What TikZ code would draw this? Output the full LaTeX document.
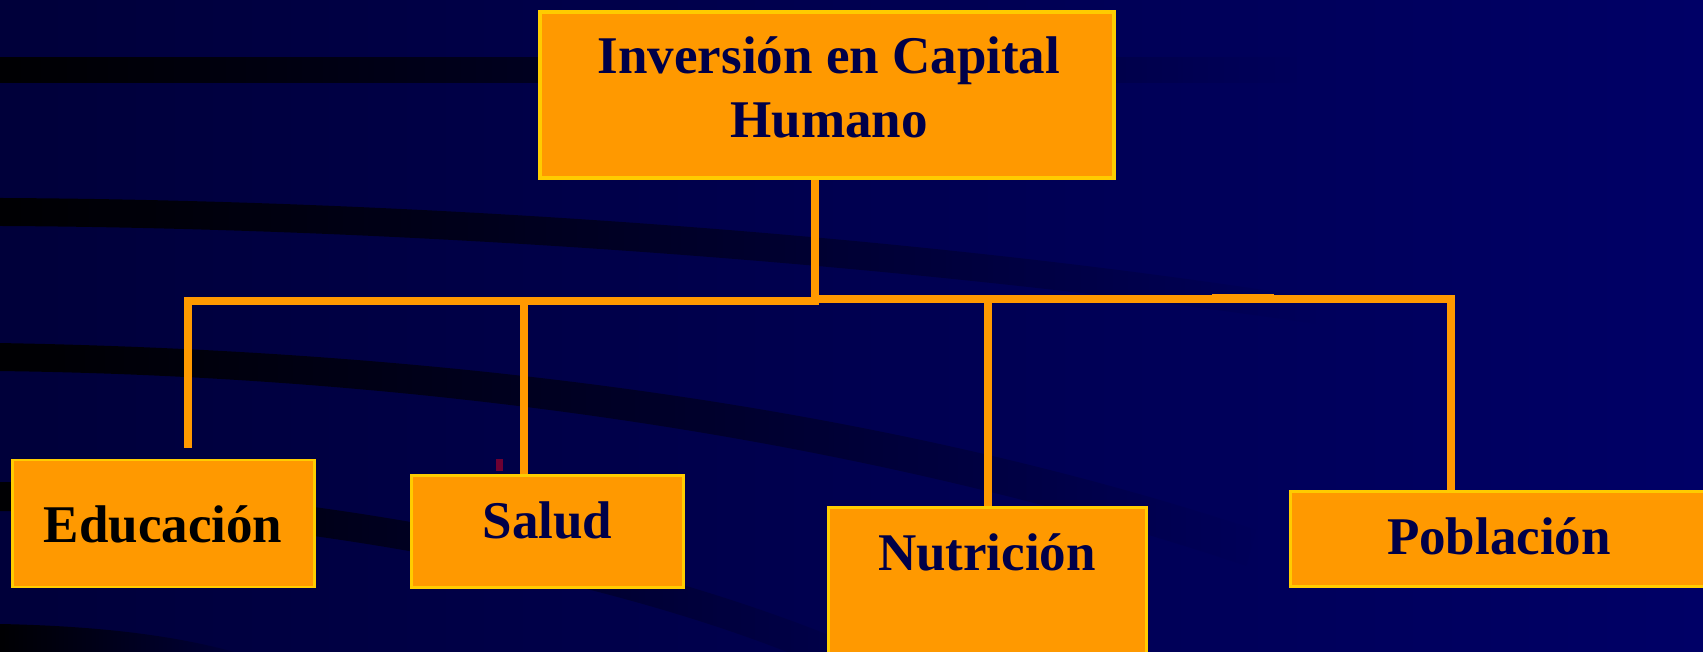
\documentclass[tikz,border=0pt]{standalone}
\usepackage{fontspec}
\setmainfont{Liberation Serif}
\usetikzlibrary{fadings}
\definecolor{bgL}{RGB}{0,0,58}
\definecolor{bgR}{RGB}{0,0,102}
\definecolor{boxfill}{RGB}{255,153,0}
\definecolor{boxedge}{RGB}{255,204,0}
\definecolor{conncol}{RGB}{255,153,0}
\definecolor{txtnavy}{RGB}{0,0,72}
\definecolor{marker}{RGB}{110,0,50}
\tikzfading[name=fadeR, left color=transparent!0, middle color=transparent!35, right color=transparent!100]
\tikzset{
  stripe/.style={fill=black, path fading=fadeR, fill opacity=0.95},
  orgbox/.style={draw=boxedge, fill=boxfill, line width=3pt, inner sep=0pt, rectangle},
  lbl/.style={font=\fontsize{53}{64}\selectfont\bfseries, text=txtnavy, anchor=base, inner sep=0pt},
  conn/.style={draw=conncol, line width=8pt, miter limit=10},
}
\begin{document}
\begin{tikzpicture}[x=1pt,y=-1pt]
\useasboundingbox (0,0) rectangle (1703,652);
\clip (0,0) rectangle (1703,652);
% background
\shade[left color=bgL, right color=bgR] (0,0) rectangle (1703,652);
% dark stripes
\fill[stripe] (0,57) -- (1300,57) -- (1300,83) -- (0,83) -- cycle;
\fill[stripe] (0,198) .. controls (400,200) and (900,232) .. (1320,298)
  -- (1320,324) .. controls (900,262) and (400,228) .. (0,226) -- cycle;
\fill[stripe] (0,343) .. controls (400,350) and (850,395) .. (1260,530)
  -- (1250,566) .. controls (850,432) and (400,376) .. (0,371) -- cycle;
\fill[stripe] (0,482) .. controls (300,488) and (650,550) .. (900,665)
  -- (820,665) .. controls (620,580) and (300,516) .. (0,511) -- cycle;
\fill[stripe] (0,624) .. controls (100,626) and (190,636) .. (260,660)
  -- (0,660) -- cycle;
% boxes
\node[orgbox, line width=4pt, minimum width=574pt, minimum height=166pt] (top) at (827,95) {};
\node[orgbox, line width=2.5pt, minimum width=302pt, minimum height=127pt] (edu) at (163.5,523.5) {};
\node[orgbox, minimum width=272pt, minimum height=112pt] (sal) at (547.5,531.5) {};
\node[orgbox, minimum width=318pt, minimum height=200pt] (nut) at (987.5,607) {};
\node[orgbox, minimum width=430pt, minimum height=95pt] (pob) at (1505,539) {};
% texts
\node[lbl] (t1) at (829,74) {Inversión en Capital};
\node[lbl] (t2) at (829,138) {Humano};
\node[lbl, text=black] (tedu) at (163,542) {Educación};
\node[lbl] (tsal) at (547.5,538) {Salud};
\node[lbl] (tnut) at (987,570) {Nutrición};
\node[lbl] (tpob) at (1499,554) {Población};
% small marker
\fill[marker] (496,459) rectangle (503,471);
% connectors
\coordinate (hubL) at (815,301);
\coordinate (hubR) at (815,299);
\coordinate (cornE) at (188,301);
\coordinate (endE) at (188,448);
\coordinate (jS) at (524,301);
\coordinate (cornP) at (1451,299);
\coordinate (segA) at (1212,298.5);
\coordinate (segB) at (1274,298.5);
\draw[conn] (top.south -| hubL) -- (hubL) -- (cornE) -- (endE);
\draw[conn] (jS) -- (jS |- sal.north);
\draw[conn] (hubR) -- (cornP) -- (cornP |- pob.north);
\draw[conn] (hubR -| nut.north) -- (nut.north);
\draw[conn, line width=8.5pt] (segA) -- (segB);
\end{tikzpicture}
\end{document}
